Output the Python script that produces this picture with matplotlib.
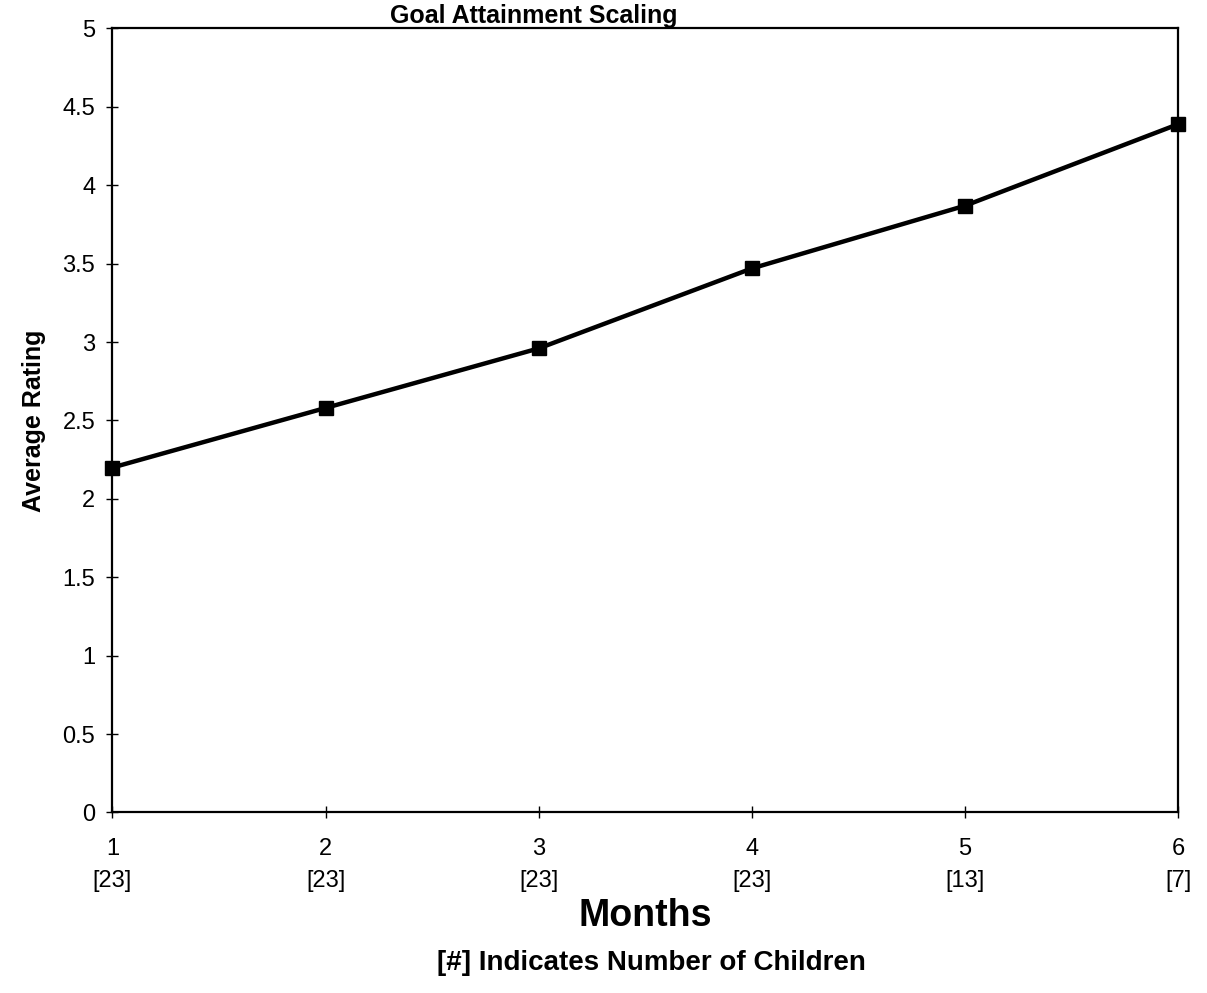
import matplotlib
matplotlib.use("Agg")
import matplotlib.pyplot as plt

months = [1, 2, 3, 4, 5, 6]
n_children = [23, 23, 23, 23, 13, 7]
avg_rating = [2.20, 2.58, 2.96, 3.47, 3.87, 4.39]
y_ticks = [0, 0.5, 1, 1.5, 2, 2.5, 3, 3.5, 4, 4.5, 5]

plt.rcParams["font.family"] = ["Liberation Sans", "DejaVu Sans"]

fig = plt.figure(figsize=(12.07, 9.93), dpi=100)
ax = fig.add_axes([0.0932, 0.1818, 0.883, 0.7895])

ax.plot(months, avg_rating, color="black", linewidth=3.2, marker="s",
        markersize=10, clip_on=False, zorder=3)

ax.set_xlim(1, 6)
ax.set_ylim(0, 5)
ax.set_yticks(y_ticks)
ax.set_yticklabels([f"{v:g}" for v in y_ticks], fontsize=17)
ax.set_xticks(months)
ax.set_xticklabels([f"{m}\n[{n}]" for m, n in zip(months, n_children)],
                   fontsize=17, linespacing=1.6)
ax.tick_params(direction="inout", length=9, width=1, colors="black")
ax.tick_params(axis="x", pad=14)
ax.tick_params(axis="y", pad=8)
for s in ax.spines.values():
    s.set_linewidth(1.6)

ax.set_ylabel("Average Rating", fontsize=18, fontweight="bold", labelpad=12)
ax.set_xlabel("Months", fontsize=27, fontweight="bold", labelpad=4)
fig.text(0.54, 0.03, "[#] Indicates Number of Children", fontsize=20,
         fontweight="bold", ha="center", va="center")

fig.text(0.323, 0.977, "Goal Attainment Scaling", fontsize=18,
         fontweight="bold", ha="left", va="baseline")

fig.savefig("out.png", dpi=100)
